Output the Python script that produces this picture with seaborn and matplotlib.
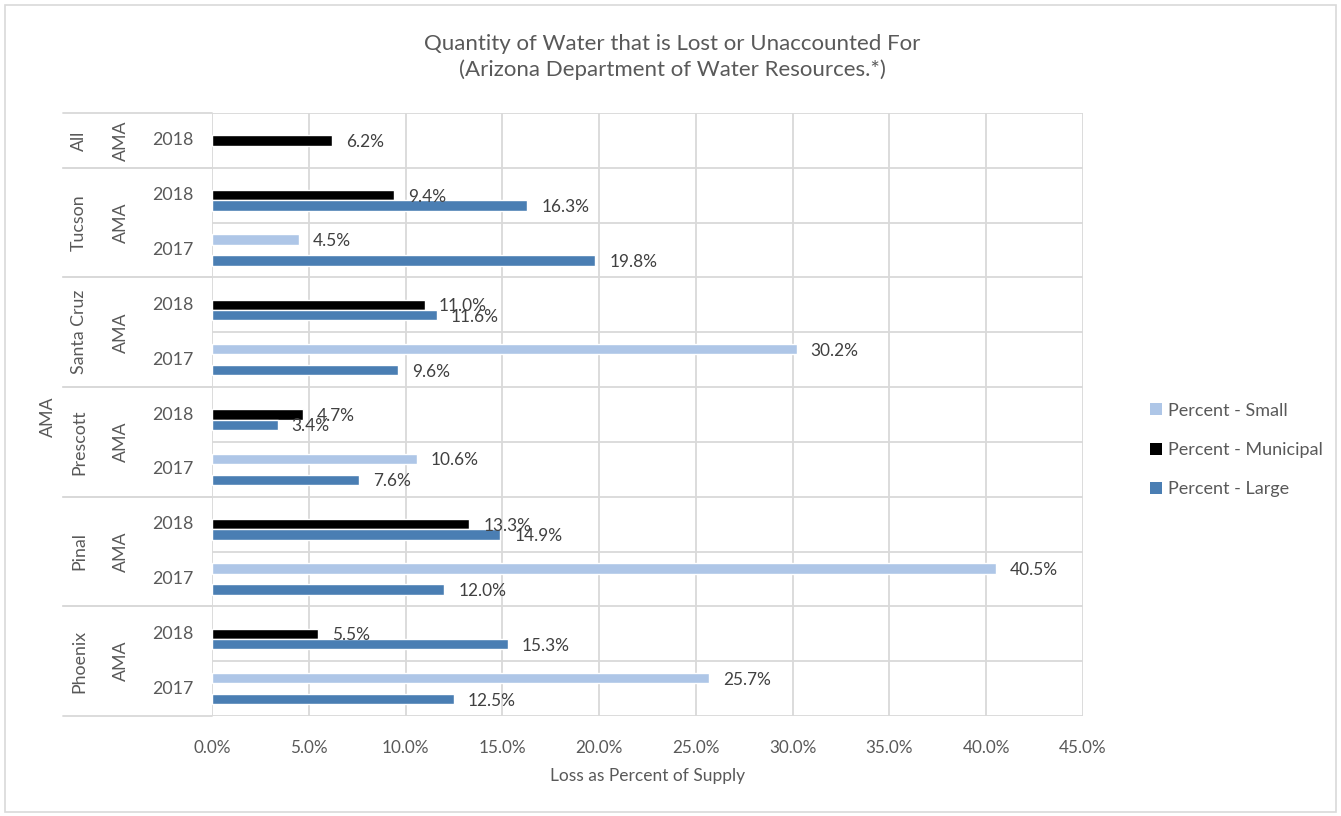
import matplotlib
matplotlib.use("Agg")
import numpy as np
import pandas as pd
import matplotlib.pyplot as plt
import seaborn as sns
from matplotlib.patches import Rectangle, Patch
from matplotlib.lines import Line2D
from matplotlib.ticker import FormatStrFormatter

# ---- data -------------------------------------------------------------
regions = ["All", "Tucson", "Tucson", "Santa Cruz", "Santa Cruz",
           "Prescott", "Prescott", "Pinal", "Pinal", "Phoenix", "Phoenix"]
years = ["2018", "2018", "2017", "2018", "2017",
         "2018", "2017", "2018", "2017", "2018", "2017"]
nan = np.nan
pct_small = [nan, nan, 4.5, nan, 30.2, nan, 10.6, nan, 40.5, nan, 25.7]
pct_municipal = [6.2, 9.4, nan, 11.0, nan, 4.7, nan, 13.3, nan, 5.5, nan]
pct_large = [nan, 16.3, 19.8, 11.6, 9.6, 3.4, 7.6, 14.9, 12.0, 15.3, 12.5]
series_names = ["Percent - Small", "Percent - Municipal", "Percent - Large"]
x_ticks = [0, 5, 10, 15, 20, 25, 30, 35, 40, 45]

# ---- styling ----------------------------------------------------------
sns.set_theme(style="white")
plt.rcParams["font.family"] = ["Lato", "DejaVu Sans"]
TXT = "#595959"
GRID = "#D9D9D9"
colors = ["#AEC6E7", "#000000", "#4A7EB3"]

row_keys = [f"{r} {y}" for r, y in zip(regions, years)]
frames = []
for name, vals in zip(series_names, [pct_small, pct_municipal, pct_large]):
    frames.append(pd.DataFrame({"row": row_keys, "series": name, "value": vals}))
df = pd.concat(frames).dropna(subset=["value"]).reset_index(drop=True)

W, H, DPI = 1341, 816, 100
fig = plt.figure(figsize=(W / DPI, H / DPI), dpi=DPI)
L, R, T, B = 212, 1083, 113, 716
ax = fig.add_axes([L / W, 1 - B / H, (R - L) / W, (B - T) / H])

sns.barplot(data=df, x="value", y="row", hue="series", order=row_keys,
            hue_order=series_names, palette=colors, orient="h", width=0.57,
            dodge=True, errorbar=None, saturation=1, legend=False, ax=ax)

for cont in ax.containers:
    labels = ax.bar_label(cont, fmt="%.1f%%", padding=10, fontsize=12.4,
                          color="#404040")
    for t in labels:
        t.set_va("center_baseline")

n = len(row_keys)
ax.set_xlim(0, 45)
ax.set_ylim(n - 0.5, -0.5)
ax.set_xticks(x_ticks)
ax.xaxis.set_major_formatter(FormatStrFormatter("%.1f%%"))
ax.tick_params(axis="x", length=0, pad=17, labelsize=12.3, labelcolor=TXT)
ax.set_yticks([])
ax.set_yticks(np.arange(-0.5, n, 1.0), minor=True)
ax.tick_params(axis="y", which="both", length=0, labelleft=False)
ax.grid(axis="x", which="major", color=GRID, linewidth=1.3)
ax.grid(axis="y", which="minor", color=GRID, linewidth=1.3)
ax.set_axisbelow(True)
for s in ax.spines.values():
    s.set_visible(False)
ax.set_xlabel("Loss as Percent of Supply", fontsize=12.5, color=TXT, labelpad=9)
ax.set_ylabel("")

# ---- multi-level category labels -------------------------------------
def ax_x(px):
    return (px - L) / (R - L)

ytr = ax.get_yaxis_transform()
for i, yr in enumerate(years):
    ax.text(ax_x(173), i, yr, transform=ytr, ha="center", va="center",
            fontsize=12.8, color=TXT)

groups = []
start = 0
for i in range(1, n + 1):
    if i == n or regions[i] != regions[start]:
        groups.append((regions[start], start, i - 1))
        start = i
for name, a, b in groups:
    mid = (a + b) / 2
    ax.text(ax_x(79), mid, name, transform=ytr, ha="center", va="center",
            rotation=90, fontsize=12.8, color=TXT)
    ax.text(ax_x(121), mid, "AMA", transform=ytr, ha="center", va="center",
            rotation=90, fontsize=12.8, color=TXT)
    for edge in (a - 0.5, b + 0.5):
        ax.add_line(Line2D([ax_x(63), 0], [edge, edge], transform=ytr,
                           color=GRID, linewidth=1.3, clip_on=False))

fig.text(48 / W, 1 - 417 / H, "AMA", rotation=90, ha="center", va="center",
         fontsize=12.8, color=TXT)

# ---- title, legend, frame --------------------------------------------
fig.text(672 / W, 1 - 57 / H,
         "Quantity of Water that is Lost or Unaccounted For\n(Arizona Department of Water Resources.*)",
         ha="center", va="center", fontsize=16, color=TXT, linespacing=1.35)

handles = [Patch(facecolor=c, edgecolor="none") for c in colors]
fig.legend(handles, series_names, loc="center left",
           bbox_to_anchor=(1134 / W, 1 - 450 / H), frameon=False,
           fontsize=13, labelcolor=TXT, handlelength=0.65, handleheight=0.65,
           handletextpad=0.35, labelspacing=1.3)

fig.patches.append(Rectangle((5 / W, 4 / H), (W - 10) / W, (H - 9) / H,
                             transform=fig.transFigure, fill=False,
                             edgecolor=GRID, linewidth=1.2))

fig.savefig("out.png", dpi=DPI, facecolor="white")
